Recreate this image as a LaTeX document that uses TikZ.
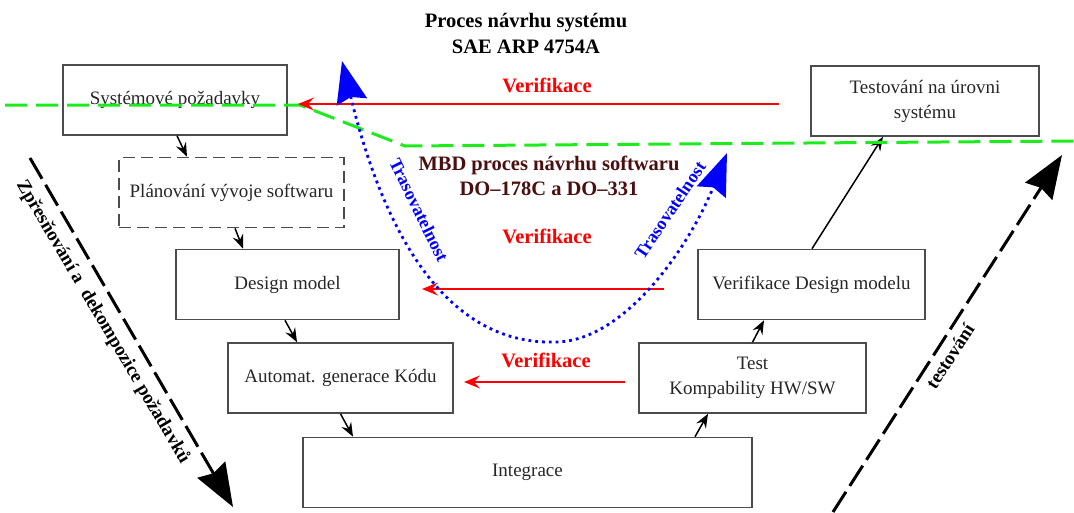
\documentclass[tikz,border=0pt]{standalone}
\usepackage{fontspec}
\setmainfont{Liberation Serif}
\usepackage{xcolor}
\usetikzlibrary{arrows.meta}
\definecolor{mbdred}{RGB}{75,15,15}
\definecolor{vgreen}{RGB}{30,235,30}

\begin{document}
\begin{tikzpicture}[x=1pt,y=-1pt,
  box/.style={draw=black!70,line width=1.6pt,minimum width=#1,minimum height=70pt,inner sep=0pt,align=center,text=black!85,font=\fontsize{19}{25}\selectfont},
  box/.default=225pt,
  flow/.style={line width=1.5pt,-{Stealth[length=14pt,width=11pt,inset=5pt]}},
  verarrow/.style={red,line width=1.8pt,-{Stealth[length=16pt,width=13pt,inset=6pt]}},
  redlabel/.style={red,font=\bfseries\fontsize{20.5}{24}\selectfont},
  tracelabel/.style={blue,font=\bfseries\fontsize{18}{22}\selectfont,inner sep=1pt},
  trace/.style={blue,line width=2.8pt,dash pattern=on 2.8pt off 4pt,{Stealth[length=42pt,width=31pt,inset=5pt]}-{Stealth[length=42pt,width=31pt,inset=5pt]}},
  bigarrow/.style={line width=3pt,dash pattern=on 24pt off 7pt,-{Stealth[length=43pt,width=32pt,inset=4pt]}},
  sidelabel/.style={font=\bfseries\fontsize{19}{22}\selectfont,inner sep=1pt}]
\useasboundingbox (0,0) rectangle (1074,512);

\node[font=\bfseries\fontsize{20.5}{26}\selectfont,align=center] (title) at (526,33) {Proces návrhu systému\\SAE ARP 4754A};
\node[font=\bfseries\fontsize{20.5}{25}\selectfont,align=center,text=mbdred,inner sep=1pt] (mbd) at (549,176) {MBD proces návrhu softwaru\\DO–178C a DO–331};

\node[box=224pt] (sys) at (175,100) {Systémové požadavky};
\node[box,dashed,dash pattern=on 12pt off 6pt] (plan) at (231.5,192.5) {Plánování vývoje softwaru};
\node[box=223pt] (design) at (287.5,284.5) {Design model};
\node[box] (kod) at (340.5,378) {Automat. generace Kódu};
\node[box=449pt] (integ) at (527.5,472.5) {Integrace};
\node[box=227pt] (test) at (752.5,378) {Test\\Kompability HW/SW};
\node[box=227pt] (verif) at (811.5,284.5) {Verifikace Design modelu};
\node[box=228pt] (syst) at (925,101) {Testování na úrovni\\systému};

\draw[flow] ([xshift=2pt]sys.south) -- ([xshift=-44.5pt]plan.north);
\draw[flow] ([xshift=3.5pt]plan.south) -- ([xshift=-44.5pt]design.north);
\draw[flow] ([xshift=-2.5pt]design.south) -- ([xshift=-43.5pt]kod.north);
\draw[flow] (kod.south) -- ([xshift=-174.5pt]integ.north);
\draw[flow] ([xshift=167.5pt]integ.north) -- ([xshift=-44.5pt]test.south);
\draw[flow] (test.north) -- ([xshift=-47.5pt]verif.south);
\draw[flow] ([xshift=0.5pt]verif.north) -- ([xshift=-42pt]syst.south);

% green border between system and software level
\coordinate (g1) at (5,105);
\coordinate (g2) at (300,105);
\coordinate (g3) at (405,146);
\coordinate (g4) at (1074,141);
\draw[vgreen,line width=3pt,dash pattern=on 22pt off 9pt] (g1) -- (g2) -- (g3) -- (g4);

\node[redlabel] (ver1) at (547,85) {Verifikace};
\node[redlabel] (ver2) at (547,236) {Verifikace};
\node[redlabel] (ver3) at (546,360) {Verifikace};
\coordinate (r1a) at (779,104); \coordinate (r1b) at (298,104);
\coordinate (r2a) at (664,289); \coordinate (r2b) at (422,289);
\coordinate (r3a) at (625,382); \coordinate (r3b) at (464,382);
\draw[verarrow] (r1a) -- (r1b);
\draw[verarrow] (r2a) -- (r2b);
\draw[verarrow] (r3a) -- (r3b);

\coordinate (tl) at (342,61);
\coordinate (tb) at (555,342);
\coordinate (tr) at (727,153);
\draw[trace] (tl) .. controls (388,250) and (455,345) .. (tb) .. controls (625,342) and (690,245) .. (tr);
\node[tracelabel,rotate=-64] (tr1) at (419,210) {Trasovatelnost};
\node[tracelabel,rotate=56] (tr2) at (670,210) {Trasovatelnost};

\coordinate (la) at (30,158); \coordinate (lb) at (233,507);
\coordinate (ra) at (833,512); \coordinate (rb) at (1062,155);
\draw[bigarrow] (la) -- (lb);
\draw[bigarrow] (ra) -- (rb);
\node[sidelabel,rotate=-59.5] (zpr) at (103,322) {Zpřesňování a\ \ dekompozice požadavků};
\node[sidelabel,rotate=57] (tst) at (950,356) {testování};
\end{tikzpicture}
\end{document}
